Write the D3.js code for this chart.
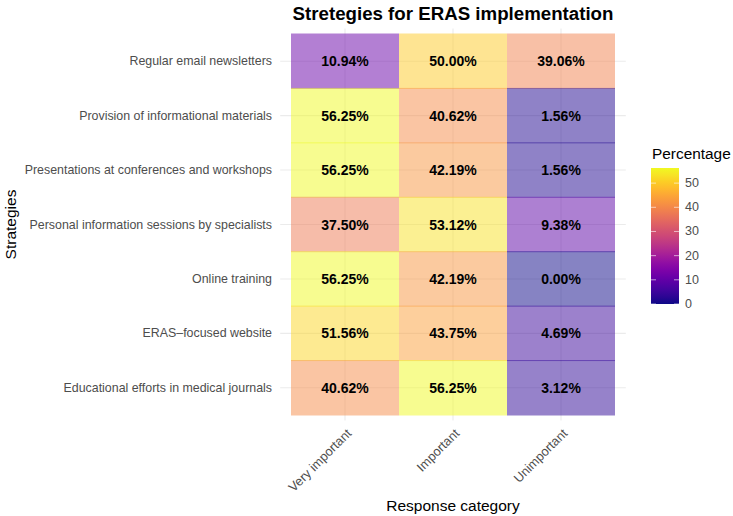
<!DOCTYPE html>
<html><head><meta charset="utf-8">
<script src="https://cdn.jsdelivr.net/npm/d3@7"></script>
<style>body{margin:0;background:#fff;font-family:"Liberation Sans",Arial,sans-serif;}</style>
</head><body><div id="chart"></div>
<script>
const strategies = ["Regular email newsletters","Provision of informational materials","Presentations at conferences and workshops","Personal information sessions by specialists","Online training","ERAS–focused website","Educational efforts in medical journals"];
const categories = ["Very important","Important","Unimportant"];
const veryImportant = [10.94,56.25,56.25,37.50,56.25,51.56,40.62];
const important = [50.00,40.62,42.19,53.12,42.19,43.75,56.25];
const unimportant = [39.06,1.56,1.56,9.38,0.00,4.69,3.12];
const legendTicks = [0,10,20,30,40,50];

const series = [veryImportant, important, unimportant];
const data = [];
strategies.forEach((s,i)=>categories.forEach((c,j)=>data.push({s,c,v:series[j][i]})));

const W=733,H=516;
const svg=d3.select("#chart").append("svg").attr("width",W).attr("height",H).style("font-family","'Liberation Sans',Arial,sans-serif");
const tileL=291,tileR=615,tileT=34,tileB=415;
const x=d3.scaleBand().domain(categories).range([tileL,tileR]);
const y=d3.scaleBand().domain(strategies).range([tileT,tileB]);
const vmax=d3.max(data,d=>d.v);
const color=d3.scaleSequential(d3.interpolatePlasma).domain([0,vmax]);
const panelL=tileL-x.bandwidth()*0.1, panelR=tileR+x.bandwidth()*0.1;
const panelT=tileT-y.bandwidth()*0.1, panelB=tileB+y.bandwidth()*0.1;

// grid
const g=svg.append("g");
categories.forEach(c=>g.append("line").attr("x1",x(c)+x.bandwidth()/2).attr("x2",x(c)+x.bandwidth()/2).attr("y1",panelT).attr("y2",panelB).attr("stroke","#ebebeb").attr("stroke-width",1.1));
strategies.forEach(s=>g.append("line").attr("y1",y(s)+y.bandwidth()/2).attr("y2",y(s)+y.bandwidth()/2).attr("x1",panelL).attr("x2",panelR).attr("stroke","#ebebeb").attr("stroke-width",1.1));

// tiles
svg.append("g").selectAll("rect").data(data).join("rect")
 .attr("x",d=>x(d.c)).attr("y",d=>y(d.s)-0.5).attr("width",x.bandwidth()).attr("height",y.bandwidth()+1)
 .attr("fill",d=>color(d.v)).attr("fill-opacity",0.5);

svg.append("g").selectAll("text").data(data).join("text")
 .attr("x",d=>x(d.c)+x.bandwidth()/2).attr("y",d=>y(d.s)+y.bandwidth()/2)
 .attr("text-anchor","middle").attr("dominant-baseline","central")
 .attr("font-weight","bold").attr("font-size",14).attr("fill","#000")
 .text(d=>d.v.toFixed(2)+"%");

// y axis labels
svg.append("g").selectAll("text").data(strategies).join("text")
 .attr("x",272).attr("y",d=>y(d)+y.bandwidth()/2).attr("text-anchor","end").attr("dominant-baseline","central")
 .attr("font-size",12.4).attr("fill","#4d4d4d").text(d=>d);
// x axis labels
svg.append("g").selectAll("text").data(categories).join("text")
 .attr("transform",d=>`translate(${x(d)+x.bandwidth()/2+4},${tileB+16}) rotate(-45)`)
 .attr("text-anchor","end").attr("dominant-baseline","central")
 .attr("font-size",12.8).attr("fill","#4d4d4d").text(d=>d);

// titles
svg.append("text").attr("x",(panelL+panelR)/2).attr("y",20).attr("text-anchor","middle")
 .attr("font-weight","bold").attr("font-size",18.7).attr("fill","#000").text("Stretegies for ERAS implementation");
svg.append("text").attr("x",(panelL+panelR)/2).attr("y",511).attr("text-anchor","middle")
 .attr("font-size",15.5).attr("fill","#000").text("Response category");
svg.append("text").attr("transform",`translate(16,${(tileT+tileB)/2}) rotate(-90)`).attr("text-anchor","middle")
 .attr("font-size",15.5).attr("fill","#000").text("Strategies");

// legend
const lg=svg.append("g");
const lx=651,lw=28,lTop=168,lBot=304;
const ls=d3.scaleLinear().domain([0,vmax]).range([lBot,lTop]);
const defs=svg.append("defs");
const grad=defs.append("linearGradient").attr("id","lgrad").attr("x1",0).attr("x2",0).attr("y1",1).attr("y2",0);
d3.range(0,1.0001,0.05).forEach(t=>grad.append("stop").attr("offset",t).attr("stop-color",color(t*vmax)));
lg.append("rect").attr("x",lx).attr("y",lTop).attr("width",lw).attr("height",lBot-lTop).attr("fill","url(#lgrad)");
legendTicks.forEach(t=>{
  lg.append("line").attr("x1",lx).attr("x2",lx+5).attr("y1",ls(t)).attr("y2",ls(t)).attr("stroke","#fff").attr("stroke-opacity",0.6);
  lg.append("line").attr("x1",lx+lw-5).attr("x2",lx+lw).attr("y1",ls(t)).attr("y2",ls(t)).attr("stroke","#fff").attr("stroke-opacity",0.6);
  lg.append("text").attr("x",lx+lw+6).attr("y",ls(t)).attr("dominant-baseline","central").attr("font-size",12.5).attr("fill","#4d4d4d").text(t);
});
lg.append("text").attr("x",lx+1).attr("y",159).attr("font-size",15.4).attr("fill","#000").text("Percentage");
</script></body></html>
